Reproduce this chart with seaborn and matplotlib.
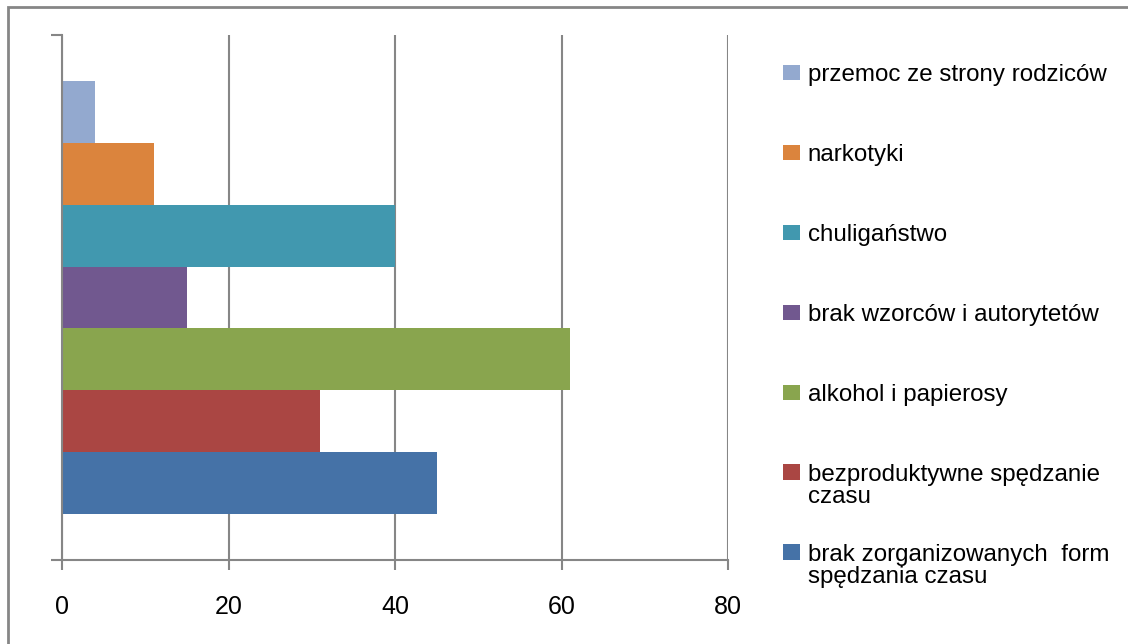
import pandas as pd
import matplotlib.pyplot as plt
import seaborn as sns
from matplotlib.patches import Rectangle
from matplotlib.legend_handler import HandlerPatch

# Series (top to bottom) and their values
reasons = [
    'przemoc ze strony rodziców',
    'narkotyki',
    'chuligaństwo',
    'brak wzorców i autorytetów',
    'alkohol i papierosy',
    'bezproduktywne spędzanie\nczasu',
    'brak zorganizowanych  form\nspędzania czasu',
]
values = [4, 11, 40, 15, 61, 31, 45]
colors = ['#93A9CF', '#DB843D', '#4198AF', '#71588F', '#89A54E', '#AA4643', '#4572A7']
x_ticks = [0, 20, 40, 60, 80]

df = pd.DataFrame({'grupa': [''] * len(reasons), 'powod': reasons, 'wartosc': values})

sns.set_style('white')
plt.rcParams['font.family'] = ['Liberation Sans', 'DejaVu Sans']
plt.rcParams['text.color'] = 'black'
plt.rcParams['xtick.labelcolor'] = 'black'


# legend square lined up with the first line of a two-line label (like Excel)
class FirstLinePatch(HandlerPatch):
    def __init__(self, shift=0, **kw):
        super().__init__(**kw)
        self.shift = shift

    def create_artists(self, legend, orig_handle, xdescent, ydescent, width, height, fontsize, trans):
        artists = super().create_artists(legend, orig_handle, xdescent, ydescent, width, height, fontsize, trans)
        for a in artists:
            a.set_y(a.get_y() + self.shift)
        return artists


fig = plt.figure(figsize=(11.28, 6.44), dpi=100)
ax = fig.add_axes([62 / 1128, 1 - 560 / 644, (728 - 62) / 1128, (560 - 35) / 644])

sns.barplot(data=df, y='grupa', x='wartosc', hue='powod', hue_order=reasons,
            palette=colors, orient='h', width=0.825, saturation=1, ax=ax,
            edgecolor='none', linewidth=0)

grey = '#868686'
ax.set_xlim(0, 80)
ax.set_ylim(0.5, -0.5)
ax.set_xticks(x_ticks)
ax.set_yticks([-0.5, 0.5])
ax.set_yticklabels([])
ax.set_xlabel('')
ax.set_ylabel('')
ax.xaxis.grid(True, color=grey, linewidth=1.5)
ax.set_axisbelow(True)
for side in ['top', 'right']:
    ax.spines[side].set_visible(False)
for side in ['left', 'bottom']:
    ax.spines[side].set_color(grey)
    ax.spines[side].set_linewidth(1.5)
ax.tick_params(axis='x', direction='out', length=7, width=1.5, color=grey,
               labelsize=18, labelcolor='black', pad=18, bottom=True)
ax.tick_params(axis='y', direction='out', length=8, width=1.5, color=grey, left=True)

old = ax.get_legend()
handles = list(old.legend_handles)
labels = [t.get_text() for t in old.get_texts()]
old.remove()

hmap = {h: FirstLinePatch(shift=10 if '\n' in lab else 0) for h, lab in zip(handles, labels)}
leg_kw = dict(loc='upper left', bbox_transform=fig.transFigure, frameon=False, fontsize=17.4,
              handlelength=0.70, handleheight=0.62, handletextpad=0.33,
              labelspacing=2.40, borderaxespad=0, borderpad=0, handler_map=hmap)

# first six entries, then the last one on its own so rows keep Excel's spacing
leg1 = fig.legend(handles[:6], labels[:6], bbox_to_anchor=(783 / 1128, 1 - 64 / 644), **leg_kw)
leg2 = fig.legend(handles[6:], labels[6:], bbox_to_anchor=(783 / 1128, 1 - 544 / 644), **leg_kw)
for leg in (leg1, leg2):
    for t in leg.get_texts():
        t.set_linespacing(1.02)
        t.set_color('black')

# outer chart border
fig.patches.append(Rectangle((8 / 1128, -0.1), 1.2, 1.1 - 8 / 644 + 0.001,
                             transform=fig.transFigure, fill=False,
                             edgecolor=grey, linewidth=2, zorder=0))

plt.savefig('out.png', dpi=100)
